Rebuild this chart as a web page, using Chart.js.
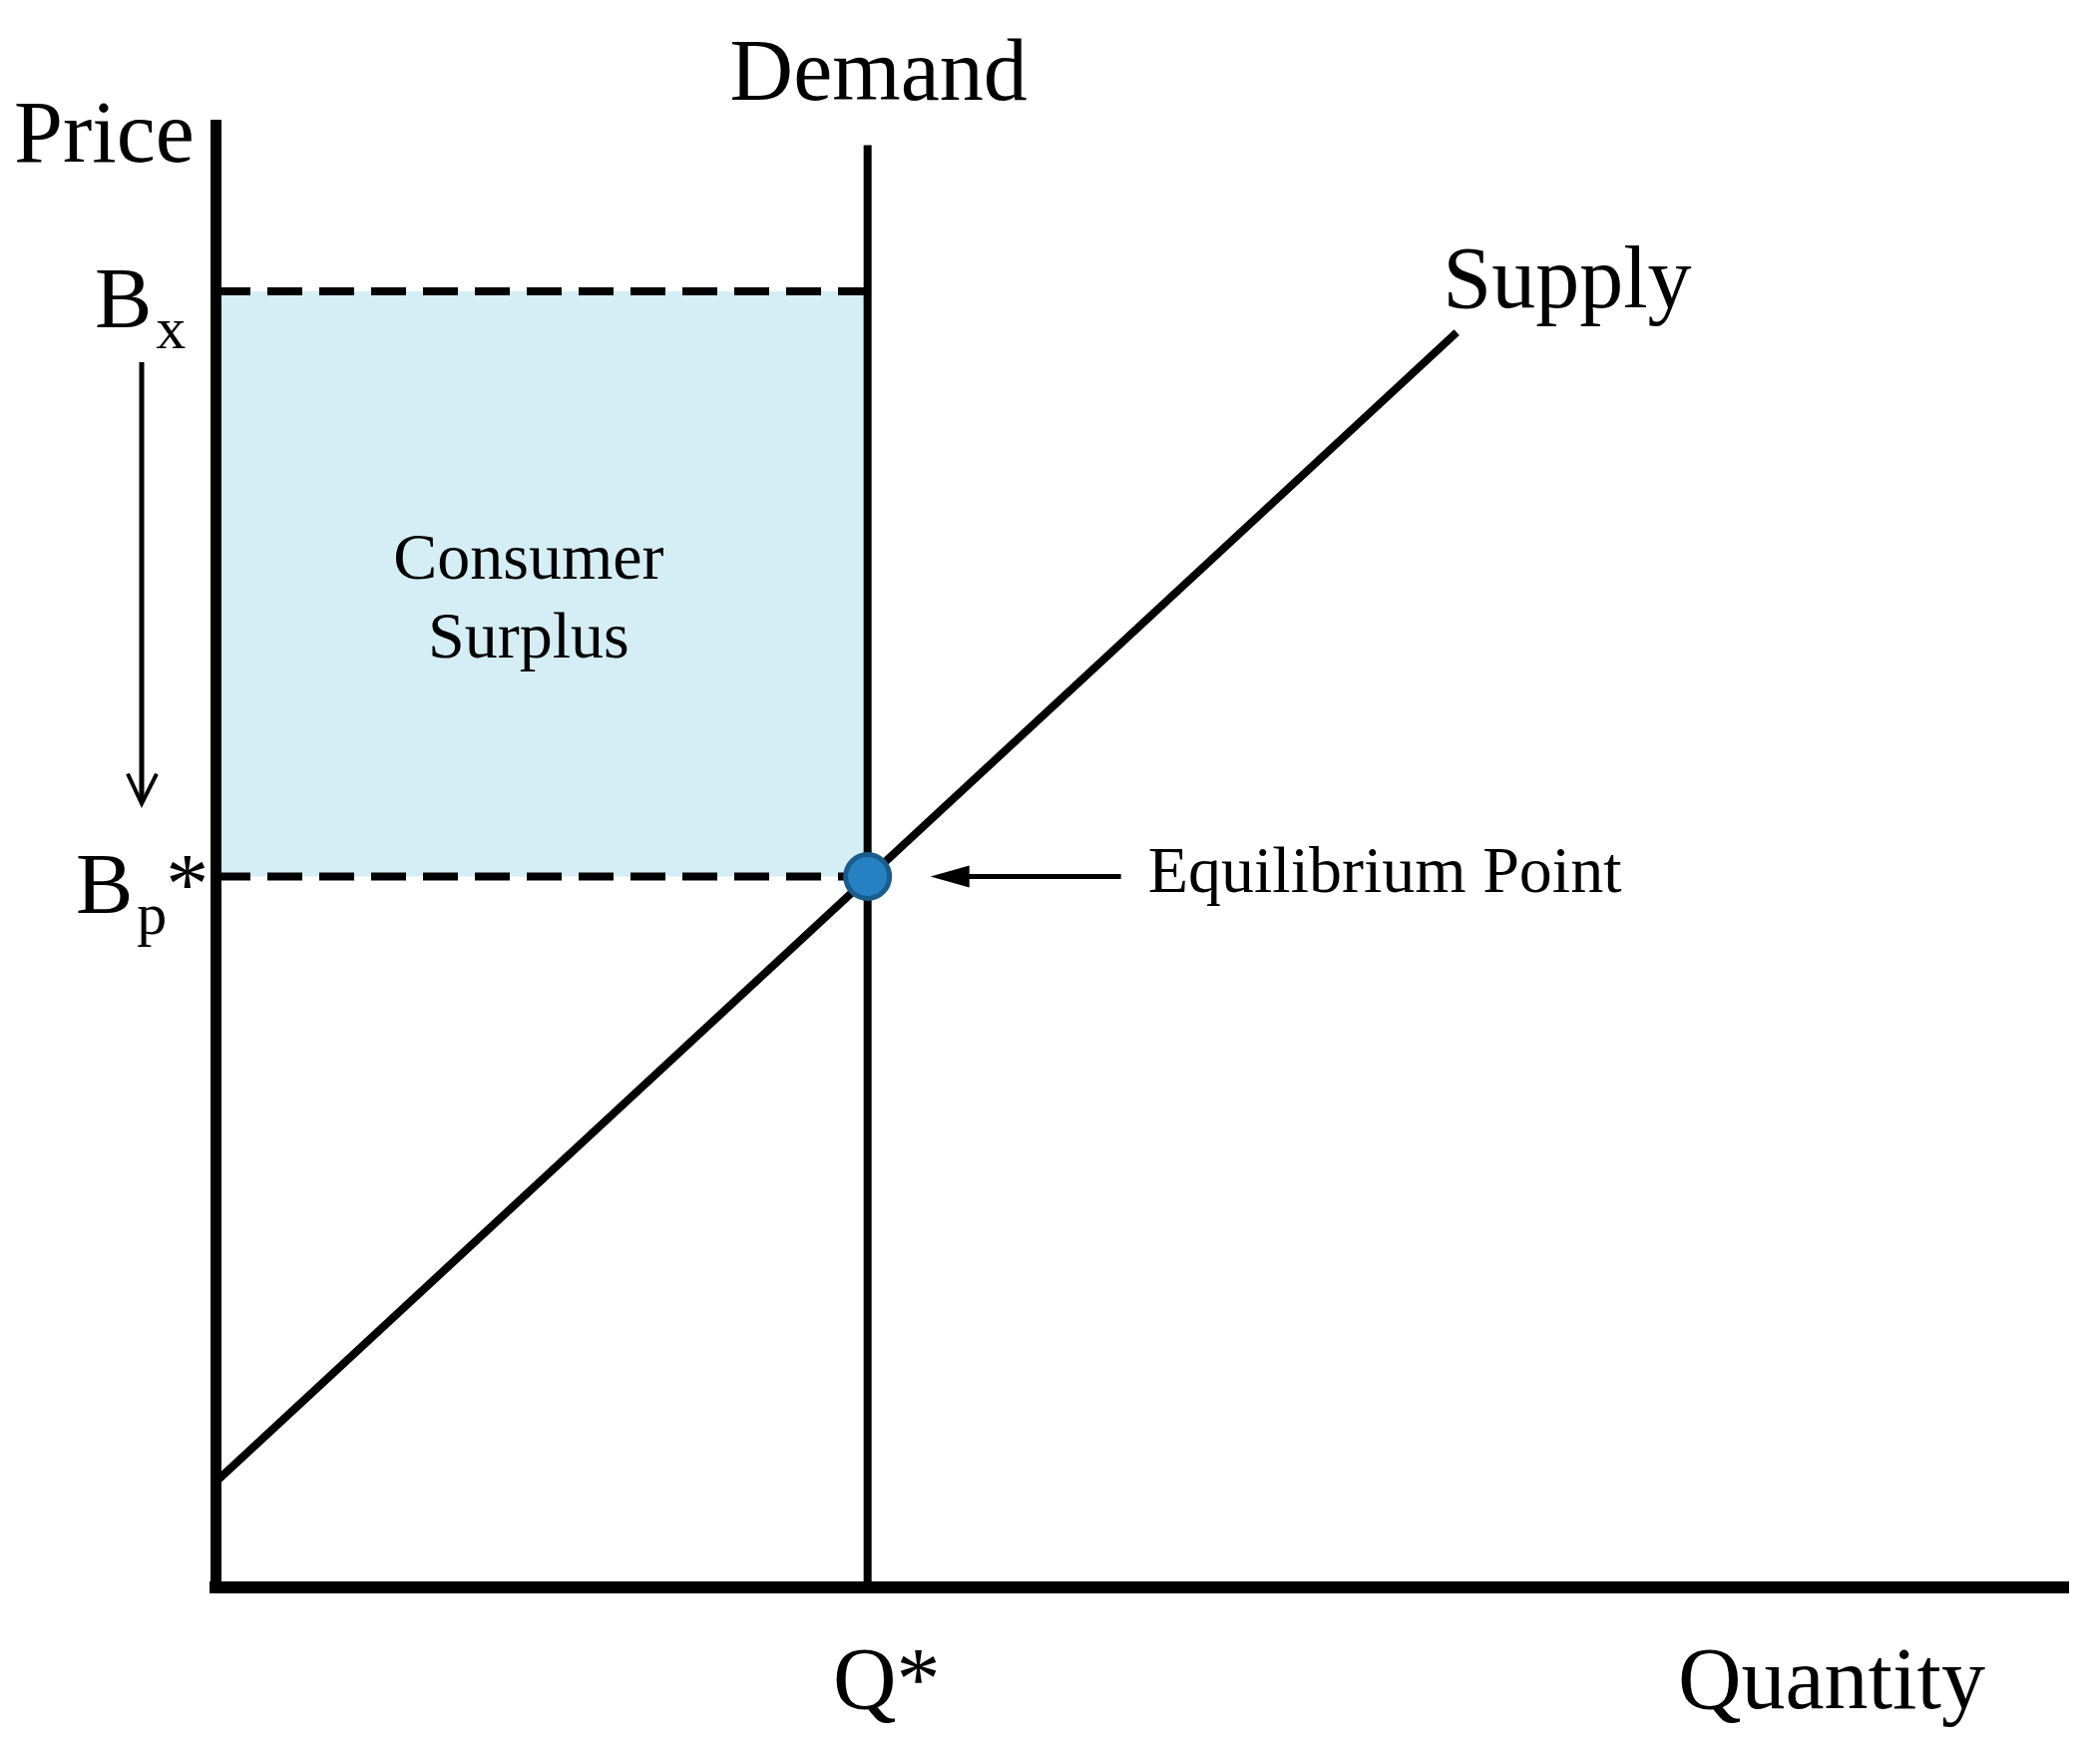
<!DOCTYPE html>
<html>
<head>
<meta charset="utf-8">
<script src="https://cdn.jsdelivr.net/npm/chart.js@4.4.0/dist/chart.umd.min.js"></script>
<style>
  html, body { margin: 0; padding: 0; background: #fff; }
  #chart { display: block; }
</style>
</head>
<body>
<canvas id="chart" width="2101" height="1768"></canvas>
<script>
// values (quantity 0..100, price 0..100)
const qStar = 35.2;
const priceTicks = [88.6, 48.6];          // Bx, Bp*
const priceTickMain = ['B', 'B'];
const priceTickSub = ['x', 'p'];
const priceTickTail = ['', '*'];
const quantityTicks = [35.2];
const quantityTickLabels = ['Q*'];

const supplyQ = [0, 67];
const supplyP = [7.2, 85.8];
const demandQ = [35.2, 35.2];
const demandP = [0, 98.6];
const surplusQ = [0, 35.2];
const equilibriumQ = [35.2];
const equilibriumP = [48.6];

const SERIF = '"Liberation Serif", "Times New Roman", serif';

const pts = (xs, ys) => xs.map((x, i) => ({ x: x, y: ys[i] }));

const canvas = document.getElementById('chart');
const ctx = canvas.getContext('2d');

const labelsPlugin = {
    id: 'econLabels',
    afterDraw(chart) {
        const c = chart.ctx;
        const xs = chart.scales.x;
        const ys = chart.scales.y;
        const left = xs.getPixelForValue(0);
        const qPx = xs.getPixelForValue(qStar);
        const bxPx = ys.getPixelForValue(priceTicks[0]);
        const bpPx = ys.getPixelForValue(priceTicks[1]);

        c.save();
        c.fillStyle = '#000';
        c.textBaseline = 'alphabetic';

        // price tick labels with subscripts
        const lefts = [left - 121, left - 140];
        priceTicks.forEach((v, i) => {
            const base = ys.getPixelForValue(v) + 36;
            let x = lefts[i];
            c.textAlign = 'left';
            c.font = '86px ' + SERIF;
            c.fillText(priceTickMain[i], x, base);
            x += c.measureText(priceTickMain[i]).width + 4;
            c.font = '60px ' + SERIF;
            c.fillText(priceTickSub[i], x, base + 21);
            x += c.measureText(priceTickSub[i]).width;
            if (priceTickTail[i]) {
                c.font = '86px ' + SERIF;
                c.fillText(priceTickTail[i], x - 1, base);
            }
        });

        // quantity tick label
        c.font = '88px ' + SERIF;
        c.textAlign = 'center';
        quantityTicks.forEach((v, i) => {
            c.fillText(quantityTickLabels[i], xs.getPixelForValue(v) + 19, 1712);
        });

        // axis titles and curve names
        c.textAlign = 'left';
        c.fillText('Price', 14, 162);
        c.fillText('Quantity', 1682, 1712);
        c.textAlign = 'center';
        c.fillText('Demand', qPx + 11, ys.getPixelForValue(demandP[1]) - 46);
        c.textAlign = 'left';
        c.fillText('Supply', xs.getPixelForValue(supplyQ[1]) - 14, ys.getPixelForValue(supplyP[1]) - 25);

        // area label
        c.font = '66px ' + SERIF;
        c.textAlign = 'center';
        const midX = (left + qPx) / 2 - 13;
        c.fillText('Consumer', midX, 580);
        c.fillText('Surplus', midX, 659);

        c.textAlign = 'left';
        c.fillText('Equilibrium Point', qPx + 281, bpPx + 15);

        // arrow pointing at the equilibrium point
        c.strokeStyle = '#000';
        c.lineWidth = 5;
        c.beginPath();
        c.moveTo(qPx + 254, bpPx);
        c.lineTo(qPx + 98, bpPx);
        c.stroke();
        c.beginPath();
        c.moveTo(qPx + 63, bpPx);
        c.lineTo(qPx + 102, bpPx - 11);
        c.lineTo(qPx + 102, bpPx + 11);
        c.closePath();
        c.fill();

        // downward arrow: price falls from Bx to Bp*
        const ax = left - 74;
        const tip = bpPx - 73;
        c.lineWidth = 5;
        c.beginPath();
        c.moveTo(ax, bxPx + 71);
        c.lineTo(ax, tip - 2);
        c.stroke();
        c.lineWidth = 4;
        c.beginPath();
        c.moveTo(ax - 14, tip - 30);
        c.lineTo(ax, tip);
        c.lineTo(ax + 15, tip - 30);
        c.stroke();
        c.restore();
    }
};

new Chart(ctx, {
    type: 'line',
    data: {
        datasets: [
            {
                // equilibrium point
                data: pts(equilibriumQ, equilibriumP),
                showLine: false,
                pointRadius: 22,
                pointBorderWidth: 5,
                pointBackgroundColor: '#2681C2',
                pointBorderColor: '#1A5C8C',
                order: 0
            },
            {
                // supply
                data: pts(supplyQ, supplyP),
                borderColor: '#000',
                borderWidth: 8,
                pointRadius: 0,
                order: 1
            },
            {
                // demand
                data: pts(demandQ, demandP),
                borderColor: '#000',
                borderWidth: 8,
                pointRadius: 0,
                order: 2
            },
            {
                // Bp* dashed line
                data: pts(surplusQ, [priceTicks[1], priceTicks[1]]),
                borderColor: '#000',
                borderWidth: 8,
                borderDash: [35, 17],
                pointRadius: 0,
                order: 3
            },
            {
                // Bx dashed line, consumer surplus filled down to Bp*
                data: pts(surplusQ, [priceTicks[0], priceTicks[0]]),
                borderColor: '#000',
                borderWidth: 8,
                borderDash: [35, 17],
                pointRadius: 0,
                fill: { value: priceTicks[1] },
                backgroundColor: '#D5EEF5',
                order: 4
            }
        ]
    },
    options: {
        responsive: false,
        animation: false,
        devicePixelRatio: 1,
        layout: { padding: { left: 216, right: 28, top: 125, bottom: 177 } },
        plugins: {
            legend: { display: false },
            tooltip: { enabled: false }
        },
        scales: {
            x: {
                type: 'linear',
                min: 0,
                max: 100,
                grid: { display: false, drawTicks: false },
                ticks: { display: false },
                border: { display: true, color: '#000', width: 12, z: 1 }
            },
            y: {
                type: 'linear',
                min: 0,
                max: 100,
                grid: { display: false, drawTicks: false },
                ticks: { display: false },
                border: { display: true, color: '#000', width: 11, z: 1 }
            }
        }
    },
    plugins: [labelsPlugin]
});
</script>
</body>
</html>
